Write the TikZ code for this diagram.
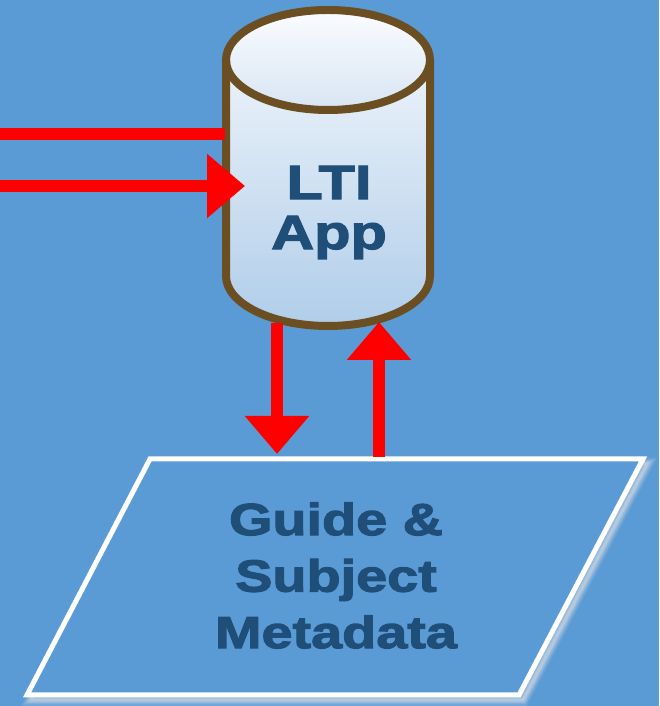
\documentclass[tikz,border=0pt]{standalone}
\usepackage{fontspec}
\setmainfont{Liberation Sans}
\newfontfamily\heavyfont{Liberation Sans Bold}[FakeBold=2.6,FakeStretch=1.24]
\usetikzlibrary{arrows.meta}
\definecolor{bgblue}{RGB}{91,155,213}
\definecolor{cylbrown}{RGB}{107,79,34}
\definecolor{txtblue}{RGB}{31,78,121}
\definecolor{bodytop}{RGB}{236,243,250}
\definecolor{bodybot}{RGB}{176,205,233}
\definecolor{captop}{RGB}{250,252,255}
\definecolor{capbot}{RGB}{216,229,243}
\definecolor{arrred}{RGB}{255,0,0}
\tikzset{
  x=1pt,y=1pt,
  cylline/.style={draw=cylbrown,line width=8pt},
  redline/.style={draw=arrred,line width=12pt},
  redarrow/.style={redline,-{Triangle[length=38pt,width=62pt]}},
  bigtext/.style={text=txtblue,align=center,inner sep=0pt},
}
\begin{document}
\begin{tikzpicture}
\fill[bgblue] (0,0) rectangle (659,706);
\useasboundingbox (0,0) rectangle (659,706);
% parallelogram shadow
\begin{scope}[shift={(4,-5)}]
\foreach \w/\o in {12/0.12,9/0.18,6/0.25,3/0.35}{
  \draw[line width=\w pt,white!80!gray,opacity=\o,line join=miter] (150,247) -- (643,247) -- (519,11) -- (27,11) -- cycle;
}
\end{scope}
% parallelogram
\draw[fill=bgblue,draw=white,line width=5pt] (150,247) -- (643,247) -- (519,11) -- (27,11) -- cycle;
\coordinate (pin) at (277,252);
\coordinate (pout) at (379,249);
\node[bigtext,font=\heavyfont\fontsize{45}{56.5}\selectfont] (meta) at (336,130.5) {Guide \&\\Subject\\Metadata};
% cylinder body
\fill[top color=bodytop,bottom color=bodybot] (226,646) -- (226,430) arc[start angle=180,end angle=360,x radius=102,y radius=50] -- (430,646) -- cycle;
\fill[top color=captop,bottom color=capbot] (328,646) ellipse[x radius=102,y radius=50];
\draw[cylline] (226,646) -- (226,430) arc[start angle=180,end angle=360,x radius=102,y radius=50] -- (430,646);
\draw[cylline] (328,646) ellipse[x radius=102,y radius=50];
\node[bigtext,font=\heavyfont\fontsize{48}{50}\selectfont] (app) at (329,493.5) {LTI\\App};
\coordinate (cl1) at (225,572);
\coordinate (cl2) at (245,520);
\coordinate (cb1) at (277,383);
\coordinate (cb2) at (379,384);
\coordinate (w1) at (0,572);
\coordinate (w2) at (0,520);
% arrows
\draw[redline] (w1) -- (cl1);
\draw[redarrow] (w2) -- (cl2);
\draw[redarrow] (cb1) -- (pin);
\draw[redarrow] (pout) -- (cb2);
\end{tikzpicture}
\end{document}
